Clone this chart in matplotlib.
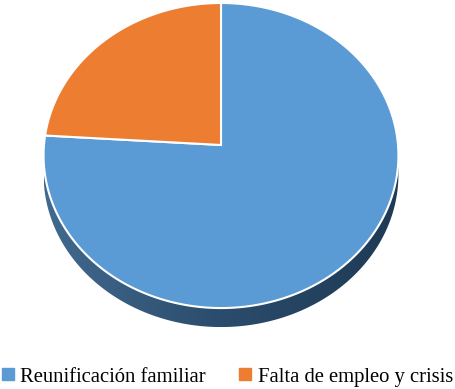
import numpy as np
import matplotlib
matplotlib.use("Agg")
import matplotlib.pyplot as plt
from matplotlib.patches import Polygon
from matplotlib.lines import Line2D
from matplotlib.colors import LinearSegmentedColormap
from matplotlib import font_manager

labels = ["Reunificación familiar", "Falta de empleo y crisis"]
values = [76, 24]
colors = ["#5B9BD5", "#ED7D31"]

# projected pie geometry in pixels (3D pie, tilted, slight perspective)
CX, CY = 221, 145
A, B = 177, 151.8
P = 0.069
DEPTH = 19


def proj(theta, dy=0.0):
    d = 1 + P * np.sin(theta)
    return np.column_stack([CX + A * np.cos(theta) / d,
                            CY - B * np.sin(theta) / d + dy])


fig = plt.figure(figsize=(4.56, 3.89), dpi=100)
ax = fig.add_axes([0, 0, 1, 1])
ax.axis("off")

# side band of the pie (front half), shaded left to right
s = np.arcsin(P)
t_side = np.linspace(np.pi + s, 2 * np.pi - s, 300)
side = np.vstack([proj(t_side), proj(t_side[::-1], DEPTH)])
side_patch = Polygon(side, closed=True, facecolor="none", edgecolor="none")
ax.add_patch(side_patch)
cmap = LinearSegmentedColormap.from_list("side", ["#416a8f", "#2b4c6c", "#1e3a55"])
grad = np.linspace(0, 1, 256).reshape(1, -1)
im = ax.imshow(grad, cmap=cmap, aspect="auto", extent=(side[:, 0].min(), side[:, 0].max(),
               side[:, 1].max(), side[:, 1].min()), zorder=1)
im.set_clip_path(side_patch)
ax.set_xlim(0, 456)
ax.set_ylim(389, 0)

# top slices: first slice starts at 12 o'clock, going clockwise
fracs = np.array(values, dtype=float) / sum(values)
start = np.pi / 2
for frac, col in zip(fracs, colors):
    end = start - frac * 2 * np.pi
    t = np.linspace(start, end, 400)
    pts = np.vstack([[CX, CY], proj(t)])
    ax.add_patch(Polygon(pts, closed=True, facecolor=col, edgecolor="white",
                         linewidth=1.5, joinstyle="miter", zorder=2))
    start = end

font = font_manager.FontProperties(family="Liberation Serif", size=14.9)
handles = [Line2D([], [], marker="s", linestyle="none", markersize=8,
                  markerfacecolor=c, markeredgecolor=c) for c in colors]
fig.legend(handles, labels, loc="lower left", bbox_to_anchor=(0.003, 0.006), ncol=2,
           frameon=False, borderpad=0, borderaxespad=0, handlelength=0.6,
           handletextpad=0.3, columnspacing=1.62, prop=font)

fig.savefig("out.png", dpi=100)
